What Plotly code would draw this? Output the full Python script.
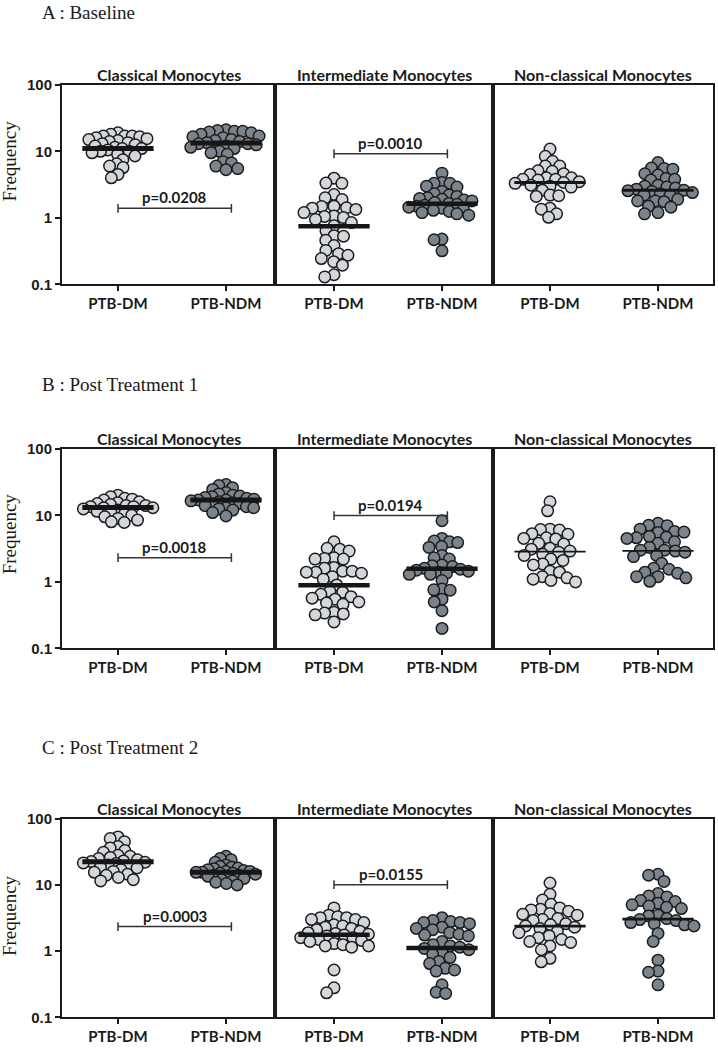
import math
import plotly.graph_objects as go

# ---------------- data ----------------
groups = ["PTB-DM", "PTB-NDM"]
subsets = ["Classical Monocytes", "Intermediate Monocytes", "Non-classical Monocytes"]
timepoints = ["A : Baseline", "B : Post Treatment 1", "C : Post Treatment 2"]
y_ticks = [0.1, 1, 10, 100]
y_tick_labels = ["0.1", "1", "10", "100"]

# Baseline
a_cls_dm = [19, 18, 17, 17, 17, 16.5, 16, 15.5, 15, 14.5, 14, 13.5, 13, 12.5, 12, 11.5, 11, 11, 10.5, 10, 10, 9.5, 9, 8.5, 7.5, 6.5, 6, 5.7, 4.5, 4.0]
a_cls_ndm = [21, 20.5, 20, 20, 19.5, 19, 18, 17, 16.5, 16, 15, 14.5, 14, 13.5, 13, 13, 12.5, 12, 11.5, 11, 10, 9.5, 9, 7, 6.7, 6, 5.5, 5.3]
a_int_dm = [3.95, 3.33, 3.3, 2.24, 2.0, 1.89, 1.5, 1.48, 1.42, 1.4, 1.34, 1.2, 1.07, 1.05, 1.01, 0.95, 0.85, 0.76, 0.64, 0.54, 0.53, 0.46, 0.385, 0.325, 0.29, 0.275, 0.245, 0.22, 0.195, 0.14, 0.13]
a_int_ndm = [4.7, 3.4, 3.3, 3.3, 3.0, 2.9, 2.5, 2.3, 2.2, 2.1, 2.0, 1.95, 1.9, 1.85, 1.8, 1.7, 1.65, 1.6, 1.55, 1.5, 1.45, 1.4, 1.35, 1.3, 1.25, 1.2, 1.15, 1.1, 0.48, 0.47, 0.32]
a_non_dm = [10.8, 8.4, 7.1, 6.0, 6.0, 5.1, 5.0, 4.6, 4.5, 4.0, 4.0, 3.8, 3.8, 3.7, 3.5, 3.4, 3.3, 3.1, 3.0, 2.9, 2.6, 2.2, 2.15, 2.1, 1.4, 1.35, 1.15, 1.02]
a_non_ndm = [6.8, 5.6, 5.5, 5.4, 4.6, 4.4, 3.9, 3.8, 3.7, 3.1, 3.0, 2.9, 2.8, 2.7, 2.6, 2.55, 2.5, 2.4, 2.3, 2.2, 2.2, 1.9, 1.8, 1.8, 1.75, 1.5, 1.45, 1.2, 1.15]
# Post treatment 1
b_cls_dm = [20, 19, 18, 17.5, 17, 16, 15.5, 15, 14.5, 14, 14, 13.5, 13.5, 13, 13, 12.5, 12, 11.5, 11, 10.5, 10, 9.5, 9, 8.5, 8, 7.8]
b_cls_ndm = [29, 28, 26, 24.5, 22, 21, 20, 19.5, 19, 18.5, 18, 17.5, 17, 17, 16.5, 16, 15.5, 15, 14.5, 14, 13.5, 13, 13, 12.5, 12, 11, 9.8]
b_int_dm = [4.0, 3.2, 3.1, 2.9, 2.3, 2.25, 2.2, 2.2, 1.65, 1.6, 1.45, 1.45, 1.4, 1.4, 1.35, 1.2, 1.1, 0.9, 0.72, 0.7, 0.65, 0.6, 0.57, 0.55, 0.5, 0.48, 0.46, 0.35, 0.34, 0.33, 0.32, 0.25]
b_int_ndm = [8.3, 4.5, 4.1, 4.0, 3.9, 3.4, 3.3, 2.5, 2.3, 2.2, 1.8, 1.75, 1.7, 1.6, 1.55, 1.5, 1.45, 1.4, 1.35, 1.3, 1.3, 1.05, 0.78, 0.76, 0.75, 0.55, 0.5, 0.37, 0.2]
b_non_dm = [16, 11.7, 6.2, 6.1, 6.0, 5.3, 5.2, 4.6, 4.5, 4.4, 3.8, 3.7, 3.2, 3.1, 2.9, 2.8, 2.6, 2.5, 2.2, 2.1, 1.85, 1.8, 1.45, 1.4, 1.2, 1.15, 1.1, 1.05, 1.0]
b_non_ndm = [7.6, 7.1, 7.0, 6.2, 5.7, 5.6, 5.5, 4.8, 4.7, 4.6, 4.5, 4.0, 3.8, 3.3, 3.0, 3.0, 2.9, 2.8, 2.5, 2.4, 1.9, 1.6, 1.55, 1.4, 1.35, 1.2, 1.2, 1.15, 1.02]
# Post treatment 2
c_cls_dm = [53, 50, 45, 38, 36, 33, 31, 28, 27, 26, 25, 24, 23, 22.5, 22, 21.5, 21, 20, 19, 18.5, 18, 17, 16, 15.5, 14.5, 14, 13, 12, 11.5]
c_cls_ndm = [27, 25, 24, 22, 20, 19, 18.5, 18, 17.5, 17, 16.5, 16, 16, 15.5, 15.5, 15, 15, 14.5, 14, 14, 13.5, 13, 12.5, 12, 11.5, 11, 10.5, 10]
c_int_dm = [4.5, 3.5, 3.3, 3.2, 3.2, 3.0, 3.0, 2.7, 2.5, 2.4, 2.3, 2.2, 2.1, 2.0, 1.9, 1.85, 1.8, 1.75, 1.7, 1.6, 1.6, 1.5, 1.45, 1.4, 1.3, 1.25, 1.2, 1.2, 1.15, 0.52, 0.28, 0.235]
c_int_ndm = [3.2, 2.9, 2.8, 2.7, 2.7, 2.6, 2.3, 2.2, 2.1, 1.9, 1.8, 1.75, 1.7, 1.4, 1.25, 1.2, 1.15, 1.1, 1.05, 0.95, 0.9, 0.8, 0.7, 0.65, 0.55, 0.52, 0.5, 0.31, 0.24, 0.23]
c_non_dm = [10.7, 7.2, 5.9, 5.1, 4.5, 4.3, 4.2, 4.0, 3.7, 3.6, 3.5, 3.1, 3.0, 2.9, 2.6, 2.5, 2.4, 2.3, 2.2, 2.0, 1.9, 1.7, 1.6, 1.5, 1.4, 1.35, 1.2, 1.05, 0.78, 0.69]
c_non_ndm = [14.5, 14.0, 11.3, 7.4, 6.8, 6.6, 5.8, 5.6, 5.3, 5.0, 4.8, 4.6, 4.4, 3.5, 3.4, 3.1, 3.0, 2.9, 2.7, 2.6, 2.5, 2.4, 1.85, 1.4, 0.73, 0.5, 0.48, 0.31]

# medians as drawn (row = timepoint, col = subset, [DM, NDM])
medians_a = [[11.0, 13.3], [0.75, 1.63], [3.4, 2.6]]
medians_b = [[13.1, 17.0], [0.89, 1.57], [2.84, 2.93]]
medians_c = [[22.4, 15.6], [1.77, 1.12], [2.38, 3.05]]

# significance: (subset index, bracket height, label)
sig_a = [(0, 1.39, "p=0.0208"), (1, 9.2, "p=0.0010")]
sig_b = [(0, 2.31, "p=0.0018"), (1, 9.9, "p=0.0194")]
sig_c = [(0, 2.35, "p=0.0003"), (1, 10.1, "p=0.0155")]

data = [
    [[a_cls_dm, a_cls_ndm], [a_int_dm, a_int_ndm], [a_non_dm, a_non_ndm]],
    [[b_cls_dm, b_cls_ndm], [b_int_dm, b_int_ndm], [b_non_dm, b_non_ndm]],
    [[c_cls_dm, c_cls_ndm], [c_int_dm, c_int_ndm], [c_non_dm, c_non_ndm]],
]
medians = [medians_a, medians_b, medians_c]
sigs = [sig_a, sig_b, sig_c]

# ---------------- layout constants ----------------
W, H = 718, 1050
row_top = [77, 447, 823]
row_bot = [280, 650, 1025]
col_lr = [(62, 275), (275, 493), (493, 713)]
col_cat0 = [118, 334, 550]
PX_PER_CAT = 108.0
PX_PER_DEC = 67.7
DOT = 11.5          # drawn marker diameter
GAP0 = 9.5          # preferred swarm spacing
MAX_HALF = 36.0     # swarm half-width limit in px
median_w = [[5, 4.5, 3], [5, 4.5, 1.8], [5, 4.5, 2.7]]
fill = ["#d3d7db", "#7b848c"]
edge = "#1c1c1c"


def swarm_at(ys, gap):
    order = sorted(range(len(ys)), key=lambda i: -ys[i])
    placed = []
    xs = [0.0] * len(ys)
    for i in order:
        y = ys[i]
        cands = [0.0]
        for px, py in placed:
            dy = abs(py - y)
            if dy < gap:
                dx = math.sqrt(gap * gap - dy * dy)
                cands += [px + dx, px - dx]
        cands.sort(key=lambda c: (abs(c), c))
        for c in cands:
            if all((c - px) ** 2 + (y - py) ** 2 >= gap * gap - 1e-6 for px, py in placed):
                xs[i] = c
                break
        placed.append((xs[i], y))
    return xs


def swarm(values):
    ys = [math.log10(v) * PX_PER_DEC for v in values]
    gap = GAP0
    xs = swarm_at(ys, gap)
    while max(abs(x) for x in xs) > MAX_HALF and gap > 4:
        gap -= 0.25
        xs = swarm_at(ys, gap)
    return [x / PX_PER_CAT for x in xs]


fig = go.Figure()
layout = {}
annotations = []
tick_font = dict(family="Lato", size=15, color="#1a1a1a")

for r in range(3):
    for c in range(3):
        k = r * 3 + c + 1
        xa = "x" if k == 1 else f"x{k}"
        ya = "y" if k == 1 else f"y{k}"
        L, R = col_lr[c]
        lo = -(col_cat0[c] - L) / PX_PER_CAT
        hi = (R - col_cat0[c]) / PX_PER_CAT
        layout["xaxis" if k == 1 else f"xaxis{k}"] = dict(
            domain=[L / W, R / W], range=[lo, hi], anchor=ya,
            showline=True, linecolor="#1a1a1a", linewidth=2, mirror=True,
            ticks="outside", ticklen=5, tickwidth=2, tickcolor="#1a1a1a",
            tickvals=[0, 1], ticktext=[f"<b>{g}</b>" for g in groups],
            tickfont=tick_font, showgrid=False, zeroline=False, fixedrange=True,
        )
        ydict = dict(
            domain=[1 - row_bot[r] / H, 1 - row_top[r] / H], type="log", range=[-1, 2],
            anchor=xa, showline=True, linecolor="#1a1a1a", linewidth=2, mirror=True,
            showgrid=False, zeroline=False, fixedrange=True,
        )
        if c == 0:
            ydict.update(ticks="outside", ticklen=5, tickwidth=2, tickcolor="#1a1a1a",
                         tickvals=y_ticks, ticktext=[f"<b>{t}</b>" for t in y_tick_labels],
                         tickfont=dict(family="Liberation Sans", size=15, color="#1a1a1a"))
        else:
            ydict.update(showticklabels=False, ticks="")
        layout["yaxis" if k == 1 else f"yaxis{k}"] = ydict

        # points
        for g in range(2):
            vals = data[r][c][g]
            offs = swarm(vals)
            fig.add_trace(go.Scatter(
                x=[g + o for o in offs], y=vals, mode="markers", xaxis=xa, yaxis=ya,
                marker=dict(size=DOT, color=fill[g], line=dict(color=edge, width=1.5)),
                showlegend=False, hoverinfo="y",
            ))
        # medians
        for g in range(2):
            m = medians[r][c][g]
            fig.add_trace(go.Scatter(
                x=[g - 0.33, g + 0.33], y=[m, m], mode="lines", xaxis=xa, yaxis=ya,
                line=dict(color="#161616", width=median_w[r][c]), showlegend=False, hoverinfo="skip",
            ))
        # panel title
        annotations.append(dict(
            text=f"<b>{subsets[c]}</b>", x=(L + R) / 2 / W, y=1 - row_top[r] / H,
            xref="paper", yref="paper", xanchor="center", yanchor="bottom", yshift=-1,
            showarrow=False, font=dict(family="Lato", size=16, color="#1a1a1a"),
        ))

    # significance brackets
    for (c, h, lab) in sigs[r]:
        k = r * 3 + c + 1
        xa = "x" if k == 1 else f"x{k}"
        ya = "y" if k == 1 else f"y{k}"
        f = 10 ** (4.5 / PX_PER_DEC)
        x0, x1 = 0.0, 1.05
        fig.add_trace(go.Scatter(
            x=[x0, x0, None, x0, x1, None, x1, x1],
            y=[h / f, h * f, None, h, h, None, h / f, h * f],
            mode="lines", xaxis=xa, yaxis=ya, line=dict(color="#333333", width=1.5),
            showlegend=False, hoverinfo="skip",
        ))
        annotations.append(dict(
            text=f"<b>{lab}</b>", x=(x0 + x1) / 2, y=math.log10(h), xref=xa, yref=ya,
            xanchor="center", yanchor="middle", yshift=11, showarrow=False,
            font=dict(family="Lato", size=15, color="#1a1a1a"),
        ))

# row titles and y labels
title_y = [0, 372, 741]      # top of the title text box (px from top)
title_shift = [9, 3, 3]
freq_y = [155, 534, 922]
for r in range(3):
    annotations.append(dict(
        text=timepoints[r], x=40 / W, y=1 - title_y[r] / H, xref="paper", yref="paper",
        xanchor="left", yanchor="top", yshift=title_shift[r], showarrow=False,
        font=dict(family="Liberation Serif", size=19, color="#1a1a1a"),
    ))
    annotations.append(dict(
        text="Frequency", x=9 / W, y=1 - freq_y[r] / H, xref="paper", yref="paper",
        xanchor="center", yanchor="middle", textangle=-90, showarrow=False,
        font=dict(family="Liberation Serif", size=19, color="#1a1a1a"),
    ))

fig.update_layout(
    width=W, height=H, margin=dict(l=0, r=0, t=0, b=0),
    paper_bgcolor="white", plot_bgcolor="white", annotations=annotations, **layout,
)
fig.write_html("out.html", config={"displayModeBar": False},
               post_script="document.body.style.margin='0';")
